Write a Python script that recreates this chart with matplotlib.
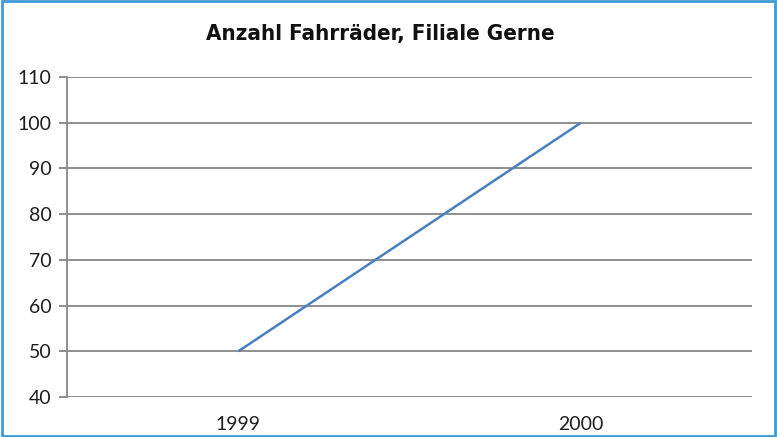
import matplotlib
matplotlib.use("Agg")
import matplotlib.pyplot as plt
from matplotlib.patches import Rectangle

# data
years = ["1999", "2000"]
bikes = [50, 100]
y_ticks = [40, 50, 60, 70, 80, 90, 100, 110]

fig = plt.figure(figsize=(7.77, 4.37), dpi=100)
ax = fig.add_axes([0.0862, 0.0915, 0.882, 0.7323])

ax.plot(range(len(years)), bikes, color="#4a7fc1", linewidth=1.8, solid_capstyle="butt")

ax.set_xlim(-0.5, len(years) - 0.5)
ax.set_ylim(40, 110)
ax.set_yticks(y_ticks)
ax.set_xticks(range(len(years)))
ax.set_xticklabels(years)

ax.grid(axis="y", color="#8e8e8e", linewidth=1.4)
ax.set_axisbelow(True)
for side in ["top", "right", "bottom"]:
    ax.spines[side].set_visible(False)
ax.spines["left"].set_color("#8e8e8e")
ax.spines["left"].set_linewidth(1.4)
ax.tick_params(axis="y", length=6, width=1.4, color="#8e8e8e", pad=5,
               labelsize=14, labelcolor="#1e1e1e")
ax.tick_params(axis="x", length=0, pad=14, labelsize=14, labelcolor="#1e1e1e")
for lab in ax.get_xticklabels() + ax.get_yticklabels():
    lab.set_family(["Lato", "DejaVu Sans"])

fig.text(0.49, 0.922, "Anzahl Fahrräder, Filiale Gerne", ha="center", va="center",
         fontsize=16, fontweight="bold", fontstretch="condensed",
         family=["DejaVu Sans"], color="#111111")

# blue frame around the picture
fig.patches.append(Rectangle((0.002, 0.002), 0.996, 0.996, transform=fig.transFigure,
                             fill=False, edgecolor="#3d9bd6", linewidth=2))

fig.savefig("out.png", dpi=100)
